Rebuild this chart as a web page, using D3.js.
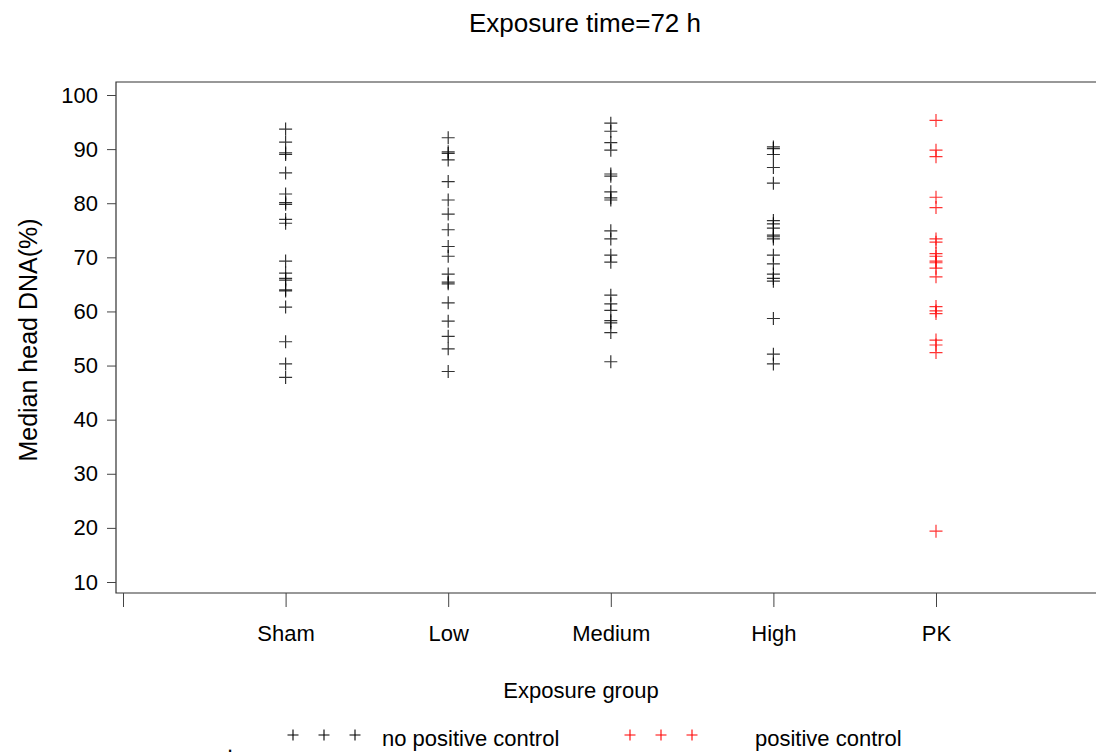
<!DOCTYPE html>
<html>
<head>
<meta charset="utf-8">
<script src="https://cdn.jsdelivr.net/npm/d3@7"></script>
<style>
  html, body { margin: 0; padding: 0; background: #fff; }
  svg { display: block; font-family: "Liberation Sans", Arial, sans-serif; }
</style>
</head>
<body>
<svg id="chart" width="1096" height="756"></svg>
<script>
// Exposure groups, in plotting order (positions 1..5 on the x axis)
const groups = ["Sham", "Low", "Medium", "High", "PK"];
const controlGroup = "PK";

// Median head DNA (%) per sample, one array per exposure group
const sham = [93.7, 91.3, 89.3, 89.0, 85.6, 81.7, 80.1, 79.8, 77.0, 76.3,
              69.3, 67.1, 66.1, 65.8, 64.0, 63.8, 60.8, 54.4, 50.3, 47.8];
const low = [92.1, 89.5, 89.2, 88.0, 84.0, 80.6, 78.0, 75.1, 72.0, 70.2,
             66.9, 65.4, 65.1, 61.6, 58.2, 55.4, 53.1, 48.9];
const medium = [94.8, 93.3, 91.2, 89.8, 85.4, 85.0, 82.1, 81.0, 80.6, 74.9,
                73.4, 70.4, 69.1, 63.0, 61.4, 60.2, 58.3, 57.9, 56.1, 50.7];
const high = [90.4, 90.1, 89.0, 86.6, 83.7, 76.8, 76.2, 75.4, 74.1, 73.8,
              73.4, 70.4, 68.8, 66.9, 66.1, 65.6, 58.7, 52.1, 50.3];
const pk = [95.3, 89.8, 88.6, 81.1, 79.2, 73.4, 72.8, 70.7, 70.2, 69.3,
            69.0, 68.0, 66.4, 60.9, 60.1, 59.6, 54.7, 53.8, 52.4, 19.4];
const groupValues = [sham, low, medium, high, pk];

// Axis ticks
const yTicks = [10, 20, 30, 40, 50, 60, 70, 80, 90, 100];
const xTicks = [0, 1, 2, 3, 4, 5];

// Text
const title = "Exposure time=72 h";
const xTitle = "Exposure group";
const yTitle = "Median head DNA(%)";
const legendLabels = ["no positive control", "positive control"];

const svg = d3.select("#chart");
const frame = { left: 116, top: 82, right: 1100, bottom: 593 };

const x = d3.scaleLinear().domain([0, 5]).range([123, 936]);
const y = d3.scaleLinear().domain([10, 100]).range([582, 95]);

const ink = "#000";
const red = "#ff0000";
const tickFont = 22;
const xTitleFont = 22;
const yTitleFont = 25;
const titleFont = 26;
const legendFont = 22;
const family = "Liberation Sans, Arial, sans-serif";

// Plot frame (open at the right, runs off the page)
svg.append("path")
  .attr("d", `M${frame.right},${frame.top}H${frame.left}V${frame.bottom}H${frame.right}`)
  .attr("fill", "none").attr("stroke", "#333").attr("stroke-width", 1.2);

// Y axis
const yAxis = d3.axisLeft(y).tickValues(yTicks).tickSize(9).tickPadding(9);
const gy = svg.append("g").attr("transform", `translate(${frame.left},0)`).call(yAxis);
gy.select(".domain").remove();
gy.selectAll(".tick line").attr("stroke", "#444");
gy.selectAll(".tick text").attr("font-size", tickFont).attr("fill", ink)
  .attr("font-family", family);

// X axis
const xAxis = d3.axisBottom(x).tickValues(xTicks).tickSize(14).tickPadding(18)
  .tickFormat(d => d >= 1 ? groups[d - 1] : "");
const gx = svg.append("g").attr("transform", `translate(0,${frame.bottom})`).call(xAxis);
gx.select(".domain").remove();
gx.selectAll(".tick line").attr("stroke", "#444");
gx.selectAll(".tick text").attr("font-size", tickFont).attr("fill", ink)
  .attr("font-family", family);

// Plus-sign markers
function plusPath(half) {
  return `M${-half},0H${half}M0,${-half}V${half}`;
}

const points = [];
groups.forEach((g, i) => {
  groupValues[i].forEach(v => points.push({ g, pos: i + 1, v }));
});

svg.append("g").selectAll("path")
  .data(points)
  .join("path")
  .attr("transform", d => `translate(${x(d.pos)},${y(d.v)})`)
  .attr("d", plusPath(6.5))
  .attr("fill", "none")
  .attr("stroke", d => d.g === controlGroup ? red : ink)
  .attr("stroke-opacity", 0.8)
  .attr("stroke-width", 1.2);

// Titles
svg.append("text").attr("x", 585).attr("y", 32).attr("text-anchor", "middle")
  .attr("font-size", titleFont).text(title);
svg.append("text").attr("x", 581).attr("y", 698).attr("text-anchor", "middle")
  .attr("font-size", xTitleFont).text(xTitle);
svg.append("text").attr("transform", "translate(37,340) rotate(-90)")
  .attr("text-anchor", "middle").attr("font-size", yTitleFont).text(yTitle);

// Legend
const legend = svg.append("g");
legend.append("text").attr("x", 227).attr("y", 752).attr("font-size", legendFont).text(".");
[[293, 324, 355], [630, 661, 692]].forEach((xs, k) => {
  legend.selectAll(null).data(xs).join("path")
    .attr("transform", d => `translate(${d},735)`)
    .attr("d", plusPath(5.5))
    .attr("fill", "none")
    .attr("stroke", k === 0 ? ink : red)
    .attr("stroke-width", 1.1);
});
legend.append("text").attr("x", 382).attr("y", 746).attr("font-size", legendFont).text(legendLabels[0]);
legend.append("text").attr("x", 755).attr("y", 746).attr("font-size", legendFont).text(legendLabels[1]);
</script>
</body>
</html>
